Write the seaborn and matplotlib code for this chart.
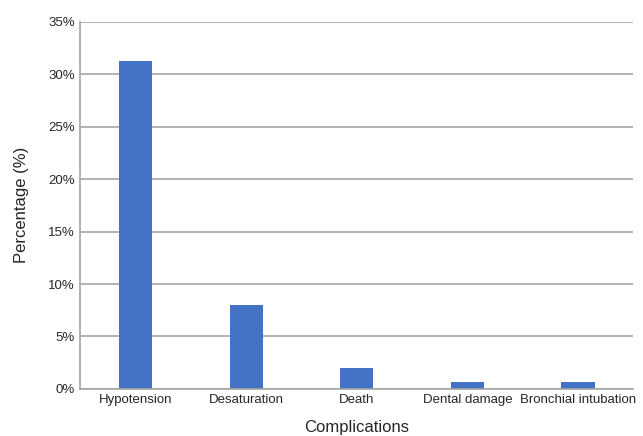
import matplotlib
matplotlib.use("Agg")
import matplotlib.pyplot as plt
import seaborn as sns
import pandas as pd
from matplotlib.ticker import FuncFormatter

complications = ['Hypotension', 'Desaturation', 'Death', 'Dental damage', 'Bronchial intubation']
percentages = [31.3, 8.0, 2.0, 0.67, 0.67]

sns.set_style("white")
plt.rcParams['font.family'] = ['Liberation Sans', 'DejaVu Sans']

df = pd.DataFrame({'Complications': complications, 'Percentage': percentages})

fig = plt.figure(figsize=(6.43, 4.36), dpi=100)
ax = fig.add_axes([0.125, 0.108, 0.86, 0.842])
ax.set_axisbelow(True)
sns.barplot(data=df, x='Complications', y='Percentage', color='#4472C4',
            width=0.3, saturation=1, linewidth=0, ax=ax)

ax.set_ylim(0, 35)
ax.set_yticks(range(0, 36, 5))
ax.yaxis.set_major_formatter(FuncFormatter(lambda v, p: f'{int(v)}%'))
ax.grid(axis='y', color='#a6a6a6', linewidth=1.2)
ax.set_xlim(-0.5, 4.5)
for s in ['top', 'right']:
    ax.spines[s].set_visible(False)
for s in ['left', 'bottom']:
    ax.spines[s].set_color('#a6a6a6')
    ax.spines[s].set_linewidth(1.2)
ax.tick_params(axis='both', labelsize=9.5, length=0, pad=4)
ax.set_xlabel('Complications', fontsize=12, labelpad=10)
ax.set_ylabel('Percentage (%)', fontsize=12, labelpad=14)

fig.savefig('out.png', dpi=100)
